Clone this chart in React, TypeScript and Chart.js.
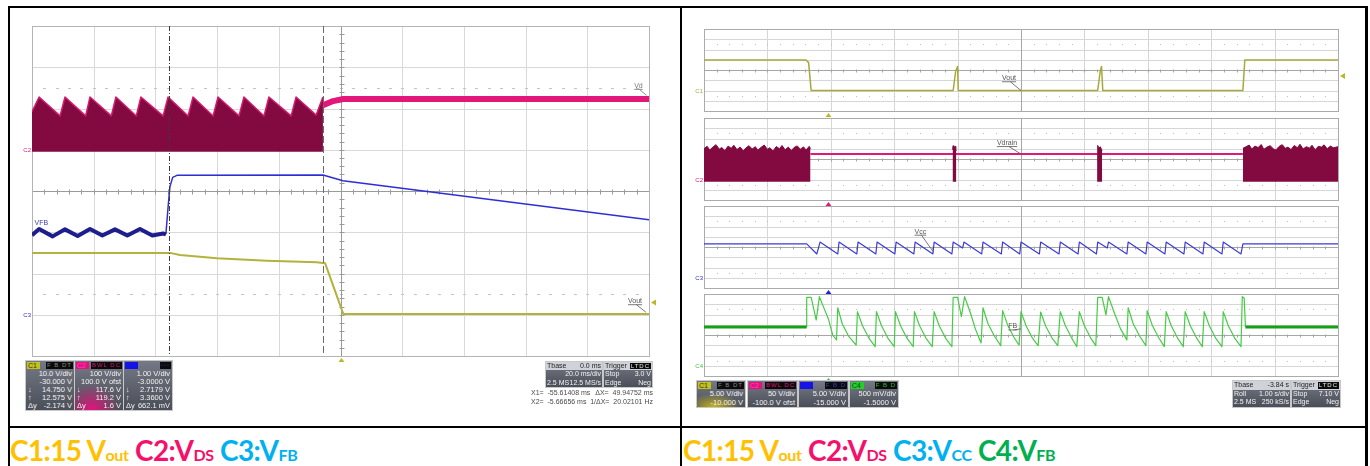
import React, { useEffect, useRef } from "react";
import { Chart, registerables } from "chart.js";

Chart.register(...registerables);

// ================= LEFT CAPTURE : 20 ms/div, time in ms =================
const L_T_MIN = -100;
const L_T_MAX = 100;
const lCursorX1 = -55.61408;
const lCursorX2 = -5.66656;

// C2 : VDS switching envelope (V)
const lVdsSwT = [-100, -97.7, -90.9, -89.3, -82.6, -81.2, -74.3, -72.8, -66.2, -64.7, -57.5, -55.9, -49.4, -47.8, -41.3, -39.7, -32.9, -31.3, -24.8, -23.2, -16.0, -14.4, -7.9, -5.7];
const lVdsSwV = [92, 128, 82, 128, 82, 128, 82, 128, 82, 128, 82, 128, 82, 128, 82, 128, 82, 128, 82, 128, 82, 128, 84, 128];
const lVdsFloor = -5;
// C2 : VDS after switching stops
const lVdsOffT = [-5.67, -2.4, 0.9, 100];
const lVdsOffV = [108, 118, 123, 123];

// C3 : VFB (V)
const lVfbRegT = [-100, -97.7, -93.3, -89.3, -85.2, -81.2, -77.2, -73.1, -69.1, -65.0, -61.0, -57.5, -56.6];
const lVfbRegV = [1.93, 2.08, 1.9, 2.07, 1.91, 2.08, 1.92, 2.07, 1.92, 2.08, 1.92, 1.97, 1.95];
const lVfbHighT = [-56.6, -55.9, -55.3, -54.4, -53.0, -5.67, 0.8, 100];
const lVfbHighV = [1.95, 2.6, 3.1, 3.33, 3.38, 3.39, 3.25, 2.3];

// C1 : Vout (V)
const lVoutT = [-100, -55.3, -52.0, -40.1, -23.9, -7.7, -5.0, 0.9, 100];
const lVoutV = [15.0, 15.0, 14.5, 13.7, 13.1, 12.7, 12.5, 0.2, 0.2];

// ================= RIGHT CAPTURE : roll 1 s/div, time in s =================
const R_T_MIN = 0;
const R_T_MAX = 10;
const rTrigT = 1.96;

// C1 : Vout (V)
const rVoutT = [0, 1.61, 1.65, 1.69, 3.93, 3.97, 4.0, 4.01, 6.21, 6.25, 6.27, 6.29, 8.5, 8.53, 10];
const rVoutV = [14.9, 14.9, 13.6, 0, 0, 9.5, 11.7, 0, 0, 9.5, 11.7, 0, 0, 14.9, 14.9];

// C2 : VDS (V)
const rVdsBand1T = [0, 0.05, 0.09, 0.14, 0.19, 0.24, 0.28, 0.33, 0.38, 0.43, 0.47, 0.52, 0.57, 0.62, 0.66, 0.71, 0.76, 0.81, 0.85, 0.9, 0.95, 1.0, 1.04, 1.09, 1.14, 1.19, 1.23, 1.28, 1.33, 1.38, 1.42, 1.47, 1.52, 1.57, 1.61, 1.66, 1.68];
const rVdsBand1V = [150, 162, 144, 158, 170, 148, 156, 141, 163, 152, 167, 146, 158, 140, 154, 165, 149, 160, 143, 157, 168, 147, 155, 139, 161, 150, 166, 145, 158, 142, 156, 164, 148, 159, 144, 162, 150];
const rVdsSpike1T = [3.92, 3.93, 3.94, 3.96, 3.97, 3.98];
const rVdsSpike1V = [146, 165, 150, 162, 148, 140];
const rVdsSpike2T = [6.2, 6.21, 6.23, 6.25, 6.27, 6.28];
const rVdsSpike2V = [150, 166, 152, 160, 147, 142];
const rVdsBand3T = [8.5, 8.55, 8.6, 8.64, 8.69, 8.74, 8.79, 8.83, 8.88, 8.93, 8.98, 9.02, 9.07, 9.12, 9.17, 9.21, 9.26, 9.31, 9.36, 9.4, 9.45, 9.5, 9.55, 9.59, 9.64, 9.69, 9.74, 9.78, 9.83, 9.88, 9.93, 10.0];
const rVdsBand3V = [152, 160, 168, 149, 163, 156, 171, 147, 158, 165, 150, 144, 161, 170, 152, 158, 146, 166, 155, 172, 149, 160, 153, 167, 145, 162, 158, 169, 150, 163, 155, 160];
const rVdsIdleT = [1.68, 8.5];
const rVdsIdleV = [124, 124];
const rVdsFloor = -11;

// C3 : VCC (V)
const rVccT = [0, 1.62, 1.78, 1.83, 2.11, 2.13, 2.41, 2.43, 2.71, 2.73, 3.01, 3.03, 3.31, 3.33, 3.61, 3.63, 3.91, 3.93, 4.08, 4.1, 4.38, 4.4, 4.69, 4.71, 4.98, 5.0, 5.29, 5.31, 5.6, 5.62, 5.9, 5.92, 6.19, 6.21, 6.36, 6.38, 6.67, 6.69, 6.97, 6.99, 7.27, 7.29, 7.57, 7.59, 7.87, 7.89, 8.17, 8.19, 8.47, 8.5, 10];
const rVccV = [16.5, 16.5, 11.6, 17.4, 11.6, 17.4, 11.6, 17.4, 11.6, 17.4, 11.6, 17.4, 11.6, 17.4, 11.6, 17.4, 11.6, 17.4, 14.5, 17.4, 11.6, 17.4, 11.6, 17.4, 11.6, 17.4, 11.6, 17.4, 11.6, 17.4, 11.6, 17.4, 11.6, 17.4, 14.5, 17.4, 11.6, 17.4, 11.6, 17.4, 11.6, 17.4, 11.6, 17.4, 11.6, 17.4, 11.6, 17.4, 11.6, 16.5, 16.5];

// C4 : VFB (V)
const rFbIdle1T = [0, 1.62];
const rFbIdle1V = [1.89, 1.89];
const rFbIdle2T = [8.54, 10];
const rFbIdle2V = [1.89, 1.89];
const rFbT = [1.62, 1.62, 1.69, 1.77, 1.82, 1.9, 1.96, 2.03, 2.09, 2.11, 2.18, 2.28, 2.4, 2.42, 2.5, 2.6, 2.7, 2.72, 2.8, 2.9, 3.0, 3.02, 3.1, 3.2, 3.3, 3.32, 3.4, 3.5, 3.6, 3.63, 3.71, 3.81, 3.91, 3.93, 4.0, 4.06, 4.11, 4.2, 4.28, 4.37, 4.4, 4.48, 4.58, 4.68, 4.71, 4.79, 4.89, 4.97, 5.0, 5.08, 5.18, 5.27, 5.31, 5.39, 5.49, 5.58, 5.62, 5.7, 5.8, 5.88, 5.92, 6.0, 6.1, 6.18, 6.21, 6.28, 6.34, 6.38, 6.47, 6.57, 6.67, 6.69, 6.77, 6.87, 6.97, 6.99, 7.07, 7.17, 7.26, 7.29, 7.37, 7.47, 7.56, 7.59, 7.67, 7.77, 7.86, 7.89, 7.97, 8.07, 8.17, 8.19, 8.27, 8.37, 8.47, 8.49, 8.52, 8.54];
const rFbV = [1.89, 3.34, 3.34, 2.23, 3.37, 2.75, 2.31, 1.5, 1.26, 2.83, 2.05, 1.45, 1.01, 2.64, 1.95, 1.35, 0.93, 2.64, 1.95, 1.35, 0.93, 2.64, 1.95, 1.35, 0.93, 2.64, 1.95, 1.35, 0.93, 2.64, 1.95, 1.35, 0.93, 3.34, 3.34, 2.39, 3.37, 2.6, 1.8, 1.11, 2.83, 2.05, 1.45, 0.98, 2.69, 1.98, 1.38, 1.01, 2.64, 1.95, 1.35, 0.98, 2.62, 1.93, 1.35, 0.98, 2.64, 1.95, 1.35, 0.93, 2.64, 1.95, 1.35, 0.98, 3.34, 3.34, 2.48, 3.37, 2.6, 1.8, 1.26, 2.83, 2.05, 1.45, 0.98, 2.69, 1.98, 1.38, 0.93, 2.64, 1.95, 1.35, 0.93, 2.64, 1.95, 1.35, 0.93, 2.64, 1.95, 1.35, 0.93, 2.64, 1.95, 1.35, 0.93, 3.37, 3.3, 1.89];

// ================= colours =================
const COL_C1 = "#b2b23c";
const COL_C2 = "#e0187a";
const COL_C2_DARK = "#820a40";
const COL_C3 = "#2e2ed2";
const COL_C4 = "#44cc44";

const PAD = 14;
const CANVAS_FONT = '"Liberation Sans", Arial, sans-serif';

type Trace = {
  t: number[];
  v: number[];
  axis: string;
  color: string;
  width: number;
  fillTo?: number;
  fillColor?: string;
};

type Note = { axis: string; t: number; v: number; text: string; color: string; to?: [number, number]; underline?: boolean };

type Deco = {
  xDivs: number;
  yDivs: number;
  gridColor: string;
  centerColor: string;
  borderColor: string;
  dotColor: string;
  dotLen: number;
  dotRows: number[];
  tick: number;
  vTicks: boolean;
  cursors?: { t: number; dash: number[]; color: string }[];
  trigger?: { t: number; color: string };
  level?: { axis: string; v: number; color: string };
  grounds?: { axis: string; text: string; color: string }[];
  notes?: Note[];
};

function makePlugin(o: Deco) {
  return {
    id: "scope",
    beforeDatasetsDraw(chart: any) {
      const { ctx, chartArea: a } = chart;
      const xs = chart.scales.x;
      const gs = chart.scales.grid;
      const nx = o.xDivs;
      const ny = o.yDivs;
      const xAt = (d: number) => xs.getPixelForValue(xs.min + (d * (xs.max - xs.min)) / nx);
      const yAt = (d: number) => gs.getPixelForValue(gs.min + d);
      const r = (v: number) => Math.round(v) + 0.5;
      ctx.save();
      ctx.lineWidth = 1;
      ctx.strokeStyle = o.gridColor;
      ctx.beginPath();
      for (let i = 1; i < nx; i++) {
        ctx.moveTo(r(xAt(i)), a.top);
        ctx.lineTo(r(xAt(i)), a.bottom);
      }
      for (let j = 1; j < ny; j++) {
        ctx.moveTo(a.left, r(yAt(j)));
        ctx.lineTo(a.right, r(yAt(j)));
      }
      ctx.stroke();
      ctx.fillStyle = o.dotColor;
      for (const row of o.dotRows) {
        const y = Math.round(yAt(row));
        for (let k = 1; k < nx * 5; k++) ctx.fillRect(Math.round(xAt(k / 5)) - Math.floor(o.dotLen / 2), y, o.dotLen, 1);
      }
      ctx.strokeStyle = o.centerColor;
      const cx = r(xAt(nx / 2));
      const cy = r(yAt(ny / 2));
      ctx.beginPath();
      ctx.moveTo(a.left, cy);
      ctx.lineTo(a.right, cy);
      ctx.moveTo(cx, a.top);
      ctx.lineTo(cx, a.bottom);
      for (let k = 1; k < nx * 5; k++) {
        const x = r(xAt(k / 5));
        ctx.moveTo(x, cy - o.tick);
        ctx.lineTo(x, cy + o.tick + 1);
      }
      if (o.vTicks) {
        for (let k = 1; k < ny * 5; k++) {
          const y = r(yAt(k / 5));
          ctx.moveTo(cx - o.tick, y);
          ctx.lineTo(cx + o.tick + 1, y);
        }
      }
      ctx.stroke();
      ctx.strokeStyle = o.borderColor;
      ctx.strokeRect(r(a.left), r(a.top), Math.round(a.right - a.left), Math.round(a.bottom - a.top));
      ctx.restore();
    },
    afterDatasetsDraw(chart: any) {
      const { ctx, chartArea: a } = chart;
      const xs = chart.scales.x;
      ctx.save();
      for (const c of o.cursors ?? []) {
        const x = Math.round(xs.getPixelForValue(c.t)) + 0.5;
        ctx.setLineDash(c.dash);
        ctx.strokeStyle = c.color;
        ctx.lineWidth = 1;
        ctx.beginPath();
        ctx.moveTo(x, a.top);
        ctx.lineTo(x, a.bottom);
        ctx.stroke();
      }
      ctx.setLineDash([]);
      if (o.trigger) {
        const x = Math.round(xs.getPixelForValue(o.trigger.t));
        ctx.fillStyle = o.trigger.color;
        ctx.beginPath();
        ctx.moveTo(x + 0.5, a.bottom + 2);
        ctx.lineTo(x - 2.5, a.bottom + 6);
        ctx.lineTo(x + 3.5, a.bottom + 6);
        ctx.closePath();
        ctx.fill();
      }
      if (o.level) {
        const y = chart.scales[o.level.axis].getPixelForValue(o.level.v);
        ctx.fillStyle = o.level.color;
        ctx.beginPath();
        ctx.moveTo(a.right + 2, y);
        ctx.lineTo(a.right + 7, y - 3);
        ctx.lineTo(a.right + 7, y + 3);
        ctx.closePath();
        ctx.fill();
      }
      ctx.font = "6px " + CANVAS_FONT;
      ctx.textAlign = "right";
      for (const g of o.grounds ?? []) {
        const y = chart.scales[g.axis].getPixelForValue(0);
        ctx.fillStyle = g.color;
        ctx.fillText(g.text, a.left - 1, y + 2);
      }
      ctx.textAlign = "left";
      ctx.font = "7px " + CANVAS_FONT;
      for (const n of o.notes ?? []) {
        const ys = chart.scales[n.axis];
        const x = xs.getPixelForValue(n.t);
        const y = ys.getPixelForValue(n.v);
        ctx.fillStyle = n.color;
        ctx.fillText(n.text, x, y);
        const w = ctx.measureText(n.text).width;
        ctx.strokeStyle = n.color;
        ctx.lineWidth = 0.8;
        ctx.beginPath();
        if (n.underline) {
          ctx.moveTo(x, y + 1.5);
          ctx.lineTo(x + w, y + 1.5);
        }
        if (n.to) {
          ctx.moveTo(x + w * 0.6, y + 1.5);
          ctx.lineTo(xs.getPixelForValue(n.to[0]), ys.getPixelForValue(n.to[1]));
        }
        ctx.stroke();
      }
      ctx.restore();
    },
  };
}

function ScopeChart(p: {
  x: number;
  y: number;
  w: number;
  h: number;
  tMin: number;
  tMax: number;
  axes: Record<string, [number, number]>;
  traces: Trace[];
  deco: Deco;
}) {
  const ref = useRef<HTMLCanvasElement>(null);
  useEffect(() => {
    const scales: any = {
      x: { type: "linear", min: p.tMin, max: p.tMax, display: false },
      grid: { type: "linear", axis: "y", min: -p.deco.yDivs / 2, max: p.deco.yDivs / 2, display: false },
    };
    for (const k of Object.keys(p.axes)) {
      scales[k] = { type: "linear", axis: "y", min: p.axes[k][0], max: p.axes[k][1], display: false };
    }
    const datasets = p.traces.map((tr, i) => ({
      data: tr.t.map((t, j) => ({ x: t, y: tr.v[j] })),
      yAxisID: tr.axis,
      borderColor: tr.color,
      borderWidth: tr.width,
      backgroundColor: tr.fillColor ?? "rgba(0,0,0,0)",
      fill: tr.fillTo !== undefined ? { value: tr.fillTo } : false,
      pointRadius: 0,
      tension: 0,
      borderJoinStyle: "round" as const,
      clip: 0,
      order: i,
    }));
    const chart = new Chart(ref.current as HTMLCanvasElement, {
      type: "line",
      data: { datasets },
      options: {
        responsive: false,
        animation: false,
        events: [],
        layout: { padding: PAD },
        scales,
        plugins: { legend: { display: false }, tooltip: { enabled: false } },
      },
      plugins: [makePlugin(p.deco)],
    });
    return () => chart.destroy();
  }, []);
  const W = p.w + 2 * PAD;
  const H = p.h + 2 * PAD;
  return (
    <canvas
      ref={ref}
      width={W}
      height={H}
      style={{ position: "absolute", left: p.x - PAD, top: p.y - PAD, width: W, height: H }}
    />
  );
}

const BOX_BG = "linear-gradient(#747985, #4a4e58)";
const BOX_FONT = '7.5px "Liberation Sans", Arial, sans-serif';

function ChanBox(p: {
  x: number;
  y: number;
  w: number;
  tag: string;
  tagBg: string;
  tagFg: string;
  badge: string;
  badgeFg: string;
  rows: string[][];
  rowH: number;
  glow?: string;
}) {
  const h = 9 + p.rows.length * p.rowH;
  const bg = p.glow
    ? `radial-gradient(ellipse 75% 70% at 35% 100%, ${p.glow}, rgba(0,0,0,0) 75%), ${BOX_BG}`
    : BOX_BG;
  return (
    <div
      style={{
        position: "absolute",
        left: p.x,
        top: p.y,
        width: p.w,
        height: h,
        background: bg,
        outline: "1px solid #c8c8c8",
        font: BOX_FONT,
        color: "#f2f2f2",
      }}
    >
      <div
        style={{
          position: "absolute",
          left: 1,
          top: 1,
          width: 12,
          height: 7,
          background: p.tagBg,
          color: p.tagFg,
          fontSize: 7,
          lineHeight: "7px",
          paddingLeft: 1,
        }}
      >
        {p.tag}
      </div>
      <div
        style={{
          position: "absolute",
          right: 1,
          top: 1,
          height: 7,
          background: "#0b0b0b",
          color: p.badgeFg,
          fontSize: 6,
          lineHeight: "7px",
          padding: "0 1px",
          letterSpacing: 1,
        }}
      >
        {p.badge}
      </div>
      {p.rows.map((r, i) => (
        <div
          key={i}
          style={{
            position: "absolute",
            left: 2,
            right: 2,
            top: 9 + i * p.rowH,
            height: p.rowH,
            lineHeight: p.rowH + "px",
            display: "flex",
            justifyContent: "space-between",
            whiteSpace: "nowrap",
          }}
        >
          <span>{r[0]}</span>
          <span>{r[1]}</span>
        </div>
      ))}
    </div>
  );
}

function InfoBox(p: { x: number; y: number; w: number; h: number; head: string; headRight: string; badge?: boolean; rows: string[][] }) {
  const rowH = p.h / 3;
  return (
    <div
      style={{
        position: "absolute",
        left: p.x,
        top: p.y,
        width: p.w,
        height: p.h,
        background: BOX_BG,
        outline: "1px solid #c8c8c8",
        font: '7px "Liberation Sans", Arial, sans-serif',
        color: "#f2f2f2",
      }}
    >
      <div
        style={{
          position: "absolute",
          left: 0,
          right: 0,
          top: 0,
          height: rowH,
          lineHeight: rowH + "px",
          background: "#cfd2d8",
          color: "#222",
          display: "flex",
          justifyContent: "space-between",
          padding: "0 1px",
          whiteSpace: "nowrap",
        }}
      >
        <span>{p.head}</span>
        {p.badge ? (
          <span style={{ background: "#0b0b0b", color: "#e8e8e8", fontSize: 6, padding: "0 1px", margin: "1px 0", lineHeight: rowH - 2 + "px", letterSpacing: 1 }}>
            {p.headRight}
          </span>
        ) : (
          <span>{p.headRight}</span>
        )}
      </div>
      {p.rows.map((r, i) => (
        <div
          key={i}
          style={{
            position: "absolute",
            left: 1,
            right: 1,
            top: rowH * (i + 1),
            height: rowH,
            lineHeight: rowH + "px",
            display: "flex",
            justifyContent: "space-between",
            whiteSpace: "nowrap",
          }}
        >
          <span>{r[0]}</span>
          <span>{r[1]}</span>
        </div>
      ))}
    </div>
  );
}

const leftCaption: [string, string, string][] = [
  ["C1:15 V", "out", "#FFC000"],
  ["C2:V", "DS", "#F5116B"],
  ["C3:V", "FB", "#00B0F0"],
];
const rightCaption: [string, string, string][] = [
  ["C1:15 V", "out", "#FFC000"],
  ["C2:V", "DS", "#F5116B"],
  ["C3:V", "CC", "#00B0F0"],
  ["C4:V", "FB", "#00B050"],
];

function Caption(p: { x: number; items: [string, string, string][] }) {
  return (
    <div
      style={{
        position: "absolute",
        left: p.x,
        top: 436,
        fontFamily: 'Lato, "Noto Sans", sans-serif',
        fontWeight: 700,
        fontSize: 28,
        lineHeight: "28px",
        letterSpacing: -0.6,
        whiteSpace: "nowrap",
      }}
    >
      {p.items.map((it, i) => (
        <span key={i} style={{ color: it[2] }}>
          {i > 0 ? " " : ""}
          {it[0]}
          <span style={{ fontSize: 16, letterSpacing: -0.3 }}>{it[1]}</span>
        </span>
      ))}
    </div>
  );
}

const gridLeft: Omit<Deco, "cursors" | "trigger" | "level" | "grounds" | "notes"> = {
  xDivs: 10,
  yDivs: 8,
  gridColor: "#d9d9d9",
  centerColor: "#9a9a9a",
  borderColor: "#b4b4b4",
  dotColor: "#c4c4c4",
  dotLen: 3,
  dotRows: [1.5, 6.5],
  tick: 2,
  vTicks: true,
};

const gridRight: Omit<Deco, "cursors" | "trigger" | "level" | "grounds" | "notes"> = {
  xDivs: 10,
  yDivs: 8,
  gridColor: "#d6d6d6",
  centerColor: "#a6a6a6",
  borderColor: "#ababab",
  dotColor: "#bdbdbd",
  dotLen: 1,
  dotRows: [1.5, 6.5],
  tick: 1,
  vTicks: false,
};

const RX = 704;
const RW = 634;
const RH = 82;
const rTops = [29, 118, 206, 294];

export default function App() {
  return (
    <div
      style={{
        position: "fixed",
        left: 0,
        top: 0,
        width: 1370,
        height: 466,
        background: "#ffffff",
        overflow: "hidden",
      }}
    >
      {/* table frame */}
      <div style={{ position: "absolute", left: 8, top: 6, width: 1360, height: 2, background: "#000" }} />
      <div style={{ position: "absolute", left: 8, top: 6, width: 2, height: 460, background: "#000" }} />
      <div style={{ position: "absolute", left: 680, top: 6, width: 2, height: 460, background: "#000" }} />
      <div style={{ position: "absolute", left: 1365, top: 6, width: 3, height: 460, background: "#000" }} />
      <div style={{ position: "absolute", left: 8, top: 426, width: 1360, height: 2, background: "#000" }} />

      {/* ---------------- LEFT ---------------- */}
      <ScopeChart
        x={32}
        y={26}
        w={617}
        h={330}
        tMin={L_T_MIN}
        tMax={L_T_MAX}
        axes={{ c1: [-10, 70], c2: [-500, 300], c3: [-1, 7] }}
        traces={[
          { t: lVdsSwT, v: lVdsSwV, axis: "c2", color: "#d41a6e", width: 1.5, fillTo: lVdsFloor, fillColor: COL_C2_DARK },
          { t: lVdsOffT, v: lVdsOffV, axis: "c2", color: "#e3177a", width: 6 },
          { t: lVfbRegT, v: lVfbRegV, axis: "c3", color: "#1d1d8e", width: 4 },
          { t: lVfbHighT, v: lVfbHighV, axis: "c3", color: COL_C3, width: 1.5 },
          { t: lVoutT, v: lVoutV, axis: "c1", color: COL_C1, width: 2 },
        ]}
        deco={{
          ...gridLeft,
          cursors: [
            { t: lCursorX1, dash: [5, 2, 1, 2], color: "#3a3a3a" },
            { t: lCursorX2, dash: [7, 3], color: "#6a6a6a" },
          ],
          trigger: { t: 0, color: "#b8b82a" },
          level: { axis: "c1", v: 3.0, color: "#b8b82a" },
          grounds: [
            { axis: "c2", text: "C2", color: COL_C2 },
            { axis: "c3", text: "C3", color: COL_C3 },
          ],
          notes: [
            { axis: "c3", t: -99.2, v: 2.18, text: "VFB", color: "#4040b0" },
            { axis: "c2", t: 95.2, v: 150, text: "Vd", color: "#777", underline: true, to: [99.2, 132] },
            { axis: "c1", t: 93.2, v: 2.8, text: "Vout", color: "#555", underline: true, to: [99, 0.6] },
          ],
        }}
      />
      <ChanBox
        x={26}
        y={361}
        w={48}
        tag="C1"
        tagBg="#c2c21a"
        tagFg="#333"
        badge="F B DT"
        badgeFg="#888"
        rowH={8}
        rows={[["", "10.0 V/div"], ["", "-30.000 V"], ["↓", "14.750 V"], ["↑", "12.575 V"], ["Δy", "-2.174 V"]]}
      />
      <ChanBox
        x={75}
        y={361}
        w={48}
        tag="C2"
        tagBg="#e2127a"
        tagFg="#f4c"
        badge="BWL DC"
        badgeFg="#e2127a"
        rowH={8}
        glow="#e8127e"
        rows={[["", "100 V/div"], ["", "100.0 V ofst"], ["↓", "117.6 V"], ["↑", "119.2 V"], ["Δy", "1.6 V"]]}
      />
      <ChanBox
        x={124}
        y={361}
        w={48}
        tag=""
        tagBg="#1414e6"
        tagFg="#fff"
        badge="▪▪▪"
        badgeFg="#1a1a60"
        rowH={8}
        rows={[["", "1.00 V/div"], ["", "-3.0000 V"], ["↓", "2.7179 V"], ["↑", "3.3600 V"], ["Δy", "662.1 mV"]]}
      />
      <InfoBox x={546} y={362} w={56} h={25} head="Tbase" headRight="0.0 ms" rows={[["", "20.0 ms/div"], ["2.5 MS", "12.5 MS/s"]]} />
      <InfoBox x={604} y={362} w={48} h={25} head="Trigger" headRight="LTDC" badge rows={[["Stop", "3.0 V"], ["Edge", "Neg"]]} />
      <div
        style={{
          position: "absolute",
          left: 531,
          top: 388,
          width: 122,
          font: '7px "Liberation Sans", Arial, sans-serif',
          color: "#4a4a4a",
          lineHeight: "9px",
          whiteSpace: "nowrap",
        }}
      >
        <div style={{ display: "flex", justifyContent: "space-between" }}>
          <span>X1=&nbsp; -55.61408 ms</span>
          <span>ΔX=&nbsp; 49.94752 ms</span>
        </div>
        <div style={{ display: "flex", justifyContent: "space-between" }}>
          <span>X2=&nbsp; -5.66656 ms</span>
          <span>1/ΔX=&nbsp; 20.02101 Hz</span>
        </div>
      </div>
      <Caption x={10} items={leftCaption} />

      {/* ---------------- RIGHT ---------------- */}
      <ScopeChart
        x={RX}
        y={rTops[0]}
        w={RW}
        h={RH}
        tMin={R_T_MIN}
        tMax={R_T_MAX}
        axes={{ c1: [-10, 30] }}
        traces={[{ t: rVoutT, v: rVoutV, axis: "c1", color: "#a8a83e", width: 1.5 }]}
        deco={{
          ...gridRight,
          trigger: { t: rTrigT, color: "#b8b82a" },
          level: { axis: "c1", v: 7.1, color: "#b8b82a" },
          grounds: [{ axis: "c1", text: "C1", color: "#a8a83e" }],
          notes: [{ axis: "c1", t: 4.7, v: 5.0, text: "Vout", color: "#555", underline: true, to: [5.0, 0] }],
        }}
      />
      <ScopeChart
        x={RX}
        y={rTops[1]}
        w={RW}
        h={RH}
        tMin={R_T_MIN}
        tMax={R_T_MAX}
        axes={{ c2: [-100, 300] }}
        traces={[
          { t: rVdsBand1T, v: rVdsBand1V, axis: "c2", color: COL_C2_DARK, width: 1, fillTo: rVdsFloor, fillColor: COL_C2_DARK },
          { t: rVdsSpike1T, v: rVdsSpike1V, axis: "c2", color: COL_C2_DARK, width: 1, fillTo: rVdsFloor, fillColor: COL_C2_DARK },
          { t: rVdsSpike2T, v: rVdsSpike2V, axis: "c2", color: COL_C2_DARK, width: 1, fillTo: rVdsFloor, fillColor: COL_C2_DARK },
          { t: rVdsBand3T, v: rVdsBand3V, axis: "c2", color: COL_C2_DARK, width: 1, fillTo: rVdsFloor, fillColor: COL_C2_DARK },
          { t: rVdsIdleT, v: rVdsIdleV, axis: "c2", color: COL_C2, width: 2 },
        ]}
        deco={{
          ...gridRight,
          trigger: { t: rTrigT, color: COL_C2 },
          grounds: [{ axis: "c2", text: "C2", color: COL_C2 }],
          notes: [{ axis: "c2", t: 4.62, v: 168, text: "Vdrain", color: "#555", underline: true, to: [5.0, 124] }],
        }}
      />
      <ScopeChart
        x={RX}
        y={rTops[2]}
        w={RW}
        h={RH}
        tMin={R_T_MIN}
        tMax={R_T_MAX}
        axes={{ c3: [-5, 35] }}
        traces={[{ t: rVccT, v: rVccV, axis: "c3", color: "#3b3bd6", width: 1.2 }]}
        deco={{
          ...gridRight,
          trigger: { t: rTrigT, color: "#2020e0" },
          grounds: [{ axis: "c3", text: "C3", color: COL_C3 }],
          notes: [{ axis: "c3", t: 3.32, v: 21.5, text: "Vcc", color: "#555", underline: true, to: [3.62, 12.5] }],
        }}
      />
      <ScopeChart
        x={RX}
        y={rTops[3]}
        w={RW}
        h={RH}
        tMin={R_T_MIN}
        tMax={R_T_MAX}
        axes={{ c4: [-0.5, 3.5] }}
        traces={[
          { t: rFbIdle1T, v: rFbIdle1V, axis: "c4", color: "#15a015", width: 3 },
          { t: rFbIdle2T, v: rFbIdle2V, axis: "c4", color: "#15a015", width: 3 },
          { t: rFbT, v: rFbV, axis: "c4", color: COL_C4, width: 1.2 },
        ]}
        deco={{
          ...gridRight,
          trigger: { t: rTrigT, color: "#30c030" },
          grounds: [{ axis: "c4", text: "C4", color: "#40c040" }],
          notes: [{ axis: "c4", t: 4.8, v: 1.82, text: "FB", color: "#555", underline: true, to: [5.0, 1.8] }],
        }}
      />
      <ChanBox
        x={697}
        y={381}
        w={48}
        tag="C1"
        tagBg="#c2c21a"
        tagFg="#333"
        badge="F B DT"
        badgeFg="#888"
        rowH={8.5}
        glow="#c8b41a"
        rows={[["", "5.00 V/div"], ["", "-10.000 V"]]}
      />
      <ChanBox
        x={748}
        y={381}
        w={49}
        tag="C2"
        tagBg="#e2127a"
        tagFg="#f4c"
        badge="BWL DC"
        badgeFg="#e2127a"
        rowH={8.5}
        rows={[["", "50 V/div"], ["", "-100.0 V ofst"]]}
      />
      <ChanBox
        x={799}
        y={381}
        w={49}
        tag=""
        tagBg="#1414e6"
        tagFg="#fff"
        badge="F B D"
        badgeFg="#3a3ad0"
        rowH={8.5}
        rows={[["", "5.00 V/div"], ["", "-15.000 V"]]}
      />
      <ChanBox
        x={850}
        y={381}
        w={48}
        tag="C4"
        tagBg="#22d022"
        tagFg="#134"
        badge="F B D"
        badgeFg="#2c2"
        rowH={8.5}
        rows={[["", "500 mV/div"], ["", "-1.5000 V"]]}
      />
      <InfoBox x={1233} y={381} w={57} h={26} head="Tbase" headRight="-3.84 s" rows={[["Roll", "1.00 s/div"], ["2.5 MS", "250 kS/s"]]} />
      <InfoBox x={1292} y={381} w={48} h={26} head="Trigger" headRight="LTDC" badge rows={[["Stop", "7.10 V"], ["Edge", "Neg"]]} />
      <Caption x={683} items={rightCaption} />
    </div>
  );
}
